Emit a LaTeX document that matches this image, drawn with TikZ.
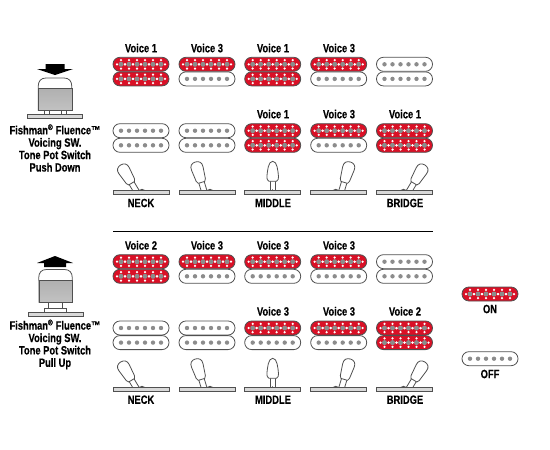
\documentclass[tikz,border=0pt]{standalone}
\usepackage{fontspec}
\setmainfont{Liberation Sans}[FakeStretch=0.78,BoldFeatures={FakeBold=0.35}]
\definecolor{pured}{RGB}{218,16,38}
\definecolor{puline}{RGB}{80,80,80}
\definecolor{pole}{RGB}{140,140,140}
\tikzset{
  lab/.style={font=\bfseries\fontsize{12}{12.4}\selectfont,inner sep=0pt,anchor=center,text=black},
  captext/.style={lab,align=center},
  puline/.style={draw=puline,line width=0.8pt},
  plate/.style={draw=puline,line width=0.8pt,fill=gray!30},
  onpu/.pic={
    \path[puline,fill=pured,rounded corners=6.9pt] (-28,-7) rectangle (28,7);
    \foreach \px in {-20,-12,-4,4,12,20}{
      \foreach \dx/\dy in {-4/0,4/0,0/-4.2,0/4.2}
        \fill[white] (\px+\dx,\dy) circle (1.25);
      \fill[pole] (\px,0) circle (2.5);
    }
  },
  offpu/.pic={
    \path[puline,fill=white,rounded corners=6.9pt] (-28,-7) rectangle (28,7);
    \foreach \px in {-20,-12,-4,4,12,20}
      \fill[pole] (\px,0) circle (2.2);
  },
  lever/.pic={
    \path[puline,fill=white] (-2.8,3) -- (-2.8,-10) -- (2.8,-10) -- (2.8,3);
    \path[puline,fill=white,line join=round]
      (-3.8,-9.2) .. controls (-5.5,-10) and (-6,-12) .. (-5.8,-14)
      .. controls (-5.2,-20) and (-4.5,-29.2) .. (0,-29.2)
      .. controls (4.5,-29.2) and (5.2,-20) .. (5.8,-14)
      .. controls (6,-12) and (5.5,-10) .. (3.8,-9.2) -- cycle;
  },
  tiltlever/.pic={
    \path[puline,fill=white] (-2.8,3) -- (-2.8,-10) -- (2.8,-10) -- (2.8,3);
    \path[puline,fill=white,line join=round]
      (-3.4,-8.5) .. controls (-4.4,-9) and (-4.7,-10) .. (-4.8,-11)
      -- (-6,-23) .. controls (-6.5,-27.5) and (-3.8,-29.8) .. (0,-29.8)
      .. controls (3.8,-29.8) and (6.5,-27.5) .. (6,-23)
      -- (4.8,-11) .. controls (4.7,-10) and (4.4,-9) .. (3.4,-8.5) -- cycle;
  },
  knobbody/.pic={
    \path[puline,fill=white] (-16.8,0) -- (-16.8,-24) .. controls (-16.8,-29.5) and (-14,-32.5) .. (-9,-32.5)
      -- (9,-32.5) .. controls (14,-32.5) and (16.8,-29.5) .. (16.8,-24) -- (16.8,0) -- cycle;
    \path[draw=puline,line width=0.4pt,top color=gray!62,bottom color=gray!48] (-16.8,0) rectangle (16.8,-22);
  }
}
\newcommand{\pupair}[4]{%
  \pic at (#1,#2) {#3};
  \pic at (#1,#2+14.6) {#4};
}
% x centre, plate top y, lever angle, lever x offset, bump direction
\newcommand{\swpos}[6][tiltlever]{%
  \pic[rotate=#4] at (#2+#5,#3) {#1};
  \draw[puline] (#2+#5+#6*3,#3) .. controls (#2+#5+#6*5,#3-1.6) and (#2+#5+#6*7,#3-1.6) .. (#2+#5+#6*9,#3);
  \path[plate] (#2-28,#3) rectangle (#2+28,#3+3.5);
}
\begin{document}
\begin{tikzpicture}[x=1pt,y=-1pt]
\useasboundingbox (0,0) rectangle (550,450);
% ---- upper block ----
\node[lab] (u1) at (141,48) {Voice 1};
\node[lab] (u2) at (207,48) {Voice 3};
\node[lab] (u3) at (273,48) {Voice 1};
\node[lab] (u4) at (339,48) {Voice 3};
\pupair{141}{64.3}{onpu}{onpu}
\pupair{207}{64.3}{onpu}{offpu}
\pupair{272.7}{64.3}{onpu}{onpu}
\pupair{338.7}{64.3}{onpu}{offpu}
\pupair{404.5}{64.3}{offpu}{offpu}
\node[lab] (u6) at (273,114) {Voice 1};
\node[lab] (u7) at (339,114) {Voice 3};
\node[lab] (u8) at (405,114) {Voice 1};
\pupair{141}{130.7}{offpu}{offpu}
\pupair{207}{130.7}{offpu}{offpu}
\pupair{272.7}{130.7}{onpu}{onpu}
\pupair{338.7}{130.7}{onpu}{offpu}
\pupair{404.5}{130.7}{onpu}{onpu}
\swpos{141}{190.5}{31}{-5}{1}
\swpos{207}{190.5}{17}{-3}{1}
\swpos[lever]{272.7}{190.5}{0}{0}{0}
\swpos{338.7}{190.5}{-17}{3}{-1}
\swpos{404.5}{190.5}{-31}{5}{-1}
\node[lab] (n1) at (141,203) {NECK};
\node[lab] (n2) at (273,203) {MIDDLE};
\node[lab] (n3) at (405,203) {BRIDGE};
% divider
\coordinate (dl) at (113,231);
\coordinate (dr) at (433,231);
\draw[black,line width=0.8pt] (dl) -- (dr);
% ---- lower block ----
\node[lab] (l1) at (141,245.3) {Voice 2};
\node[lab] (l2) at (207,245.3) {Voice 3};
\node[lab] (l3) at (273,245.3) {Voice 3};
\node[lab] (l4) at (339,245.3) {Voice 3};
\pupair{141}{261.7}{onpu}{onpu}
\pupair{207}{261.7}{onpu}{offpu}
\pupair{272.7}{261.7}{onpu}{offpu}
\pupair{338.7}{261.7}{onpu}{offpu}
\pupair{404.5}{261.7}{offpu}{offpu}
\node[lab] (l6) at (273,311.3) {Voice 3};
\node[lab] (l7) at (339,311.3) {Voice 3};
\node[lab] (l8) at (405,311.3) {Voice 2};
\pupair{141}{328}{offpu}{offpu}
\pupair{207}{328}{offpu}{offpu}
\pupair{272.7}{328}{onpu}{offpu}
\pupair{338.7}{328}{onpu}{offpu}
\pupair{404.5}{328}{onpu}{onpu}
\swpos{141}{387.5}{31}{-5}{1}
\swpos{207}{387.5}{17}{-3}{1}
\swpos[lever]{272.7}{387.5}{0}{0}{0}
\swpos{338.7}{387.5}{-17}{3}{-1}
\swpos{404.5}{387.5}{-31}{5}{-1}
\node[lab] (m1) at (141,399.7) {NECK};
\node[lab] (m2) at (273,399.7) {MIDDLE};
\node[lab] (m3) at (405,399.7) {BRIDGE};
% ---- legend ----
\pic at (490,294) {onpu};
\node[lab] (on) at (490,309) {ON};
\pic at (490,358.7) {offpu};
\node[lab] (off) at (490,374) {OFF};
% ---- upper knob ----
\fill[black] (45.5,64) -- (64.5,64) -- (64.5,69) -- (73,69) -- (55,75) -- (37,69) -- (45.5,69) -- cycle;
\pic at (55,110.5) {knobbody};
\path[puline,fill=white,line width=0.5pt] (44,110.5) rectangle (49,114);
\path[puline,fill=white,line width=0.5pt] (61,110.5) rectangle (66,114);
\path[plate] (27,114.3) rectangle (82,118);
% ---- lower knob ----
\fill[black] (44,267) -- (66,267) -- (66,263) -- (73,263) -- (55,256) -- (37,263) -- (44,263) -- cycle;
\pic at (55.5,302) {knobbody};
\path[puline,fill=white] (48,302) rectangle (62,312);
\path[puline,fill=white] (44,308) rectangle (66,312);
\path[plate] (28,312) rectangle (83,316);
% ---- captions ----
\node[captext] (c1) at (55,148) {Fishman\textsuperscript{®} Fluence™\\Voicing SW.\\Tone Pot Switch\\Push Down};
\node[captext] (c2) at (55,344.5) {Fishman\textsuperscript{®} Fluence™\\Voicing SW.\\Tone Pot Switch\\Pull Up};
\end{tikzpicture}
\end{document}
